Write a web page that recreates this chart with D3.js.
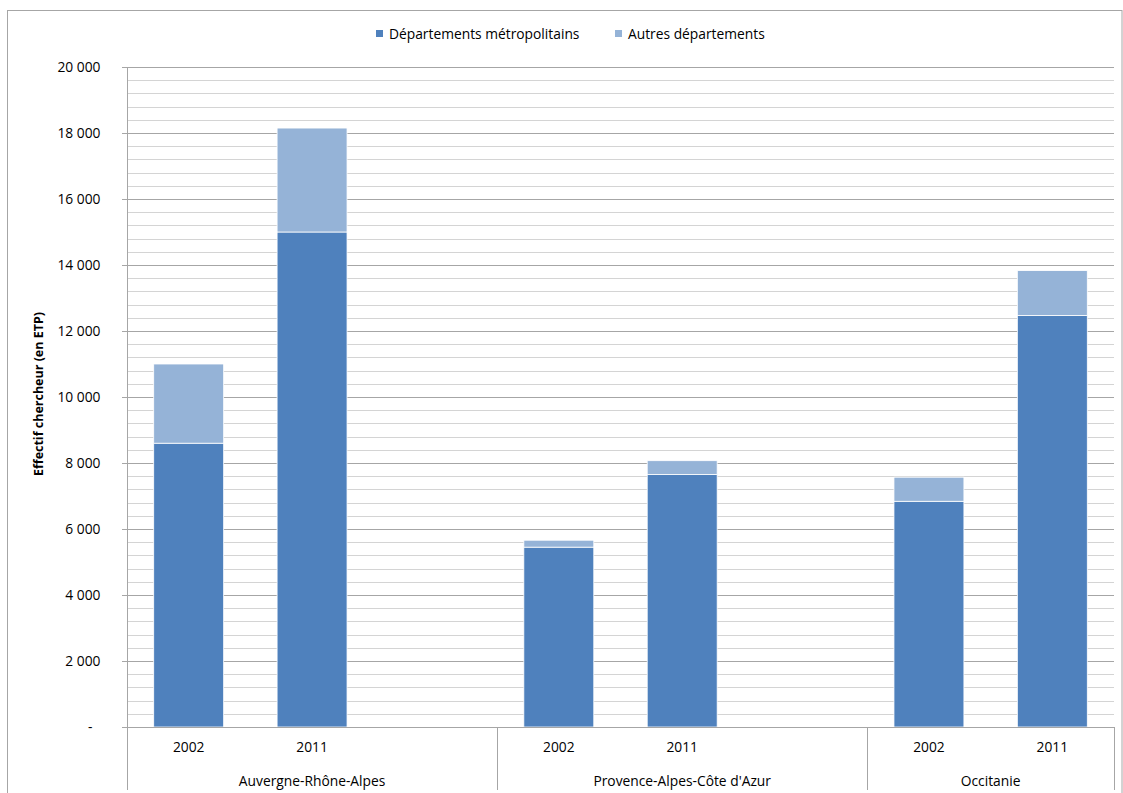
<!DOCTYPE html>
<html><head><meta charset="utf-8">
<script src="https://cdn.jsdelivr.net/npm/d3@7"></script>
<style>body{margin:0;background:#fff;} text{font-family:"Open Sans",sans-serif;fill:#000;}</style>
</head><body><svg id="c" width="1123" height="793"></svg>
<script>
const regions = ["Auvergne-Rhône-Alpes", "Provence-Alpes-Côte d'Azur", "Occitanie"];
const years = ["2002", "2011"];
const seriesNames = ["Départements métropolitains", "Autres départements"];
const metro = [8600, 15000, 5450, 7650, 6840, 12470];
const autres = [2400, 3150, 210, 420, 730, 1360];
const yTicks = [0, 2000, 4000, 6000, 8000, 10000, 12000, 14000, 16000, 18000, 20000];
const colors = ["#4f81bd", "#95b3d7"];

const svg = d3.select("#c");
const FONT = "Open Sans, sans-serif";
const FS = 13.8;
const L = 127, R = 1114, T = 67, B = 727;

const slots = [];
regions.forEach((r, ri) => {
  years.forEach(y => slots.push(r + "|" + y));
  if (ri < regions.length - 1) slots.push(r + "|gap");
});
const x = d3.scaleBand().domain(slots).range([L, R]).paddingInner(0.433).paddingOuter(0.2165);
const y = d3.scaleLinear().domain([0, 20000]).range([B, T]);
const slotStart = k => x(k) - (x.step() - x.bandwidth()) / 2;

svg.append("rect").attr("x", 7.5).attr("y", 10.5).attr("width", 1114.5).attr("height", 800)
  .attr("fill", "none").attr("stroke", "#a6a6a6").attr("stroke-width", 1);

const minor = d3.range(0, 20001, 400).filter(v => v % 2000 !== 0);
svg.append("g").selectAll("line").data(minor).join("line")
  .attr("x1", L).attr("x2", R).attr("y1", d => Math.round(y(d)) + 0.5).attr("y2", d => Math.round(y(d)) + 0.5)
  .attr("stroke", "#d4d4d4").attr("stroke-width", 1);
svg.append("g").selectAll("line").data(yTicks.filter(v => v > 0)).join("line")
  .attr("x1", L - 5).attr("x2", R).attr("y1", d => Math.round(y(d)) + 0.5).attr("y2", d => Math.round(y(d)) + 0.5)
  .attr("stroke", "#a6a6a6").attr("stroke-width", 1);

const yAxis = d3.axisLeft(y).tickValues(yTicks).tickSize(5).tickPadding(22)
  .tickFormat(d => d === 0 ? "-" : d3.format(",")(d).replace(/,/g, " "));
const gy = svg.append("g").attr("transform", `translate(${L + 0.5},0)`).call(yAxis);
gy.select(".domain").attr("stroke", "#a6a6a6").attr("d", `M0,${T}V${B}`);
gy.selectAll(".tick line").attr("stroke", "#a6a6a6");
gy.selectAll(".tick text").attr("font-size", FS).attr("font-family", FONT).attr("fill", "#000")
  .attr("dx", d => d === 0 ? -8 : 0);

const data = [];
regions.forEach((r, ri) => years.forEach((yr, yi) => {
  const i = ri * years.length + yi;
  data.push({key: r + "|" + yr, m: metro[i], a: autres[i]});
}));
const gb = svg.append("g");
data.forEach(d => {
  gb.append("rect").attr("x", x(d.key)).attr("width", x.bandwidth())
    .attr("y", y(d.m)).attr("height", y(0) - y(d.m))
    .attr("fill", colors[0]).attr("stroke", "#fff").attr("stroke-width", 0.8);
  gb.append("rect").attr("x", x(d.key)).attr("width", x.bandwidth())
    .attr("y", y(d.m + d.a)).attr("height", y(d.m) - y(d.m + d.a))
    .attr("fill", colors[1]).attr("stroke", "#fff").attr("stroke-width", 0.8);
});

svg.append("line").attr("x1", L - 5).attr("x2", R).attr("y1", B + 0.5).attr("y2", B + 0.5).attr("stroke", "#a6a6a6");
const seps = [L];
regions.forEach((r, ri) => {
  if (ri < regions.length - 1) seps.push(slotStart(r + "|gap") + x.step());
});
seps.push(R);
svg.append("g").selectAll("line").data(seps).join("line")
  .attr("x1", d => Math.round(d) + 0.5).attr("x2", d => Math.round(d) + 0.5)
  .attr("y1", B).attr("y2", 790).attr("stroke", "#a6a6a6");

svg.append("g").selectAll("text").data(data).join("text")
  .attr("x", d => x(d.key) + x.bandwidth() / 2).attr("y", 752)
  .attr("text-anchor", "middle").attr("font-size", FS).text(d => d.key.split("|")[1]);
svg.append("g").selectAll("text").data(regions).join("text")
  .attr("x", (d, i) => (seps[i] + seps[i + 1]) / 2).attr("y", 786)
  .attr("text-anchor", "middle").attr("font-size", FS).text(d => d);

svg.append("text").attr("transform", "translate(43,394) rotate(-90)")
  .attr("text-anchor", "middle").attr("font-size", 12.5).attr("font-weight", "bold")
  .text("Effectif chercheur (en ETP)");

const legX = [376, 615];
seriesNames.forEach((n, i) => {
  svg.append("rect").attr("x", legX[i]).attr("y", 30).attr("width", 7).attr("height", 7).attr("fill", colors[i]);
  svg.append("text").attr("x", legX[i] + 13).attr("y", 39).attr("font-size", FS).text(n);
});
</script></body></html>
